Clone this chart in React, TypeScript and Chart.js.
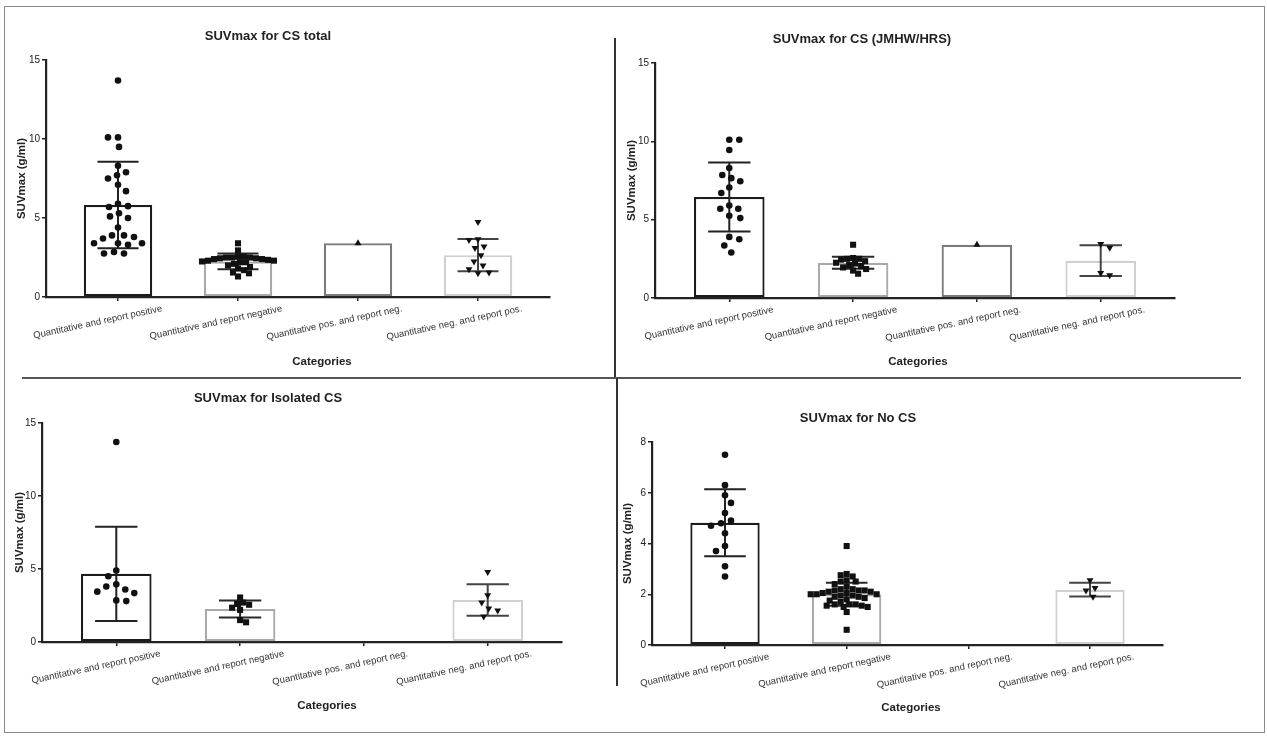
import React, { useEffect, useRef } from "react";
import { Chart, registerables } from "chart.js";

Chart.register(...registerables);

// ---------- DATA ----------
const categories = [
  "Quantitative and report positive",
  "Quantitative and report negative",
  "Quantitative pos. and report neg.",
  "Quantitative neg. and report pos.",
];

// Panel 1: SUVmax for CS total
const totalPos = [13.7, 10.1, 10.1, 9.5, 8.3, 7.9, 7.7, 7.5, 7.1, 6.7, 5.9, 5.75, 5.7, 5.3, 5.1, 5.0, 4.4, 3.9, 3.9, 3.8, 3.7, 3.4, 3.4, 3.4, 3.3, 2.85, 2.75, 2.75];
const totalNeg = [3.4, 2.95, 2.55, 2.5, 2.5, 2.45, 2.4, 2.35, 2.3, 2.25, 2.2, 2.2, 2.3, 2.4, 2.45, 2.5, 2.55, 2.1, 2.0, 1.9, 1.8, 1.7, 1.55, 1.5, 1.3];
const totalPosNeg = [3.4];
const totalNegPos = [4.75, 3.65, 3.6, 3.2, 3.1, 2.65, 2.25, 2.0, 1.75, 1.55, 1.5];
const totalMeans = [5.82, 2.25, 3.4, 2.65];
const totalSDs = [2.74, 0.5, 0, 1.02];

// Panel 2: SUVmax for CS (JMHW/HRS)
const jmhwPos = [10.1, 10.1, 9.45, 8.3, 7.85, 7.65, 7.45, 7.05, 6.7, 5.9, 5.7, 5.7, 5.25, 5.1, 3.9, 3.75, 3.35, 2.9];
const jmhwNeg = [3.4, 2.55, 2.5, 2.5, 2.45, 2.35, 2.25, 2.2, 2.1, 2.05, 1.95, 1.85, 1.75, 1.55];
const jmhwPosNeg = [3.4];
const jmhwNegPos = [3.45, 3.2, 1.6, 1.45];
const jmhwMeans = [6.45, 2.25, 3.4, 2.38];
const jmhwSDs = [2.2, 0.38, 0, 0.98];

// Panel 3: SUVmax for Isolated CS
const isoPos = [13.7, 4.9, 4.5, 3.95, 3.8, 3.6, 3.45, 3.35, 2.85, 2.8];
const isoNeg = [3.05, 2.7, 2.6, 2.55, 2.35, 2.2, 1.5, 1.35];
const isoPosNeg: number[] = [];
const isoNegPos = [4.8, 3.2, 2.7, 2.3, 2.15, 1.75];
const isoMeans = [4.67, 2.26, null, 2.87];
const isoSDs = [3.23, 0.58, 0, 1.08];

// Panel 4: SUVmax for No CS
const noPos = [7.5, 6.3, 5.9, 5.6, 5.2, 4.9, 4.8, 4.7, 4.4, 3.9, 3.7, 3.1, 2.7];
const noNeg = [3.9, 2.8, 2.75, 2.7, 2.55, 2.5, 2.5, 2.4, 2.3, 2.2, 2.2, 2.15, 2.15, 2.15, 2.1, 2.1, 2.05, 2.05, 2.0, 2.0, 2.0, 1.95, 1.95, 1.9, 1.9, 1.85, 1.8, 1.75, 1.7, 1.6, 1.6, 1.6, 1.55, 1.55, 1.5, 1.5, 1.3, 0.6];
const noPosNeg: number[] = [];
const noNegPos = [2.55, 2.25, 2.15, 1.9];
const noMeans = [4.82, 2.0, null, 2.18];
const noSDs = [1.32, 0.45, 0, 0.27];

const yTicks15 = [0, 5, 10, 15];
const yTicks8 = [0, 2, 4, 6, 8];

// ---------- STYLE / LAYOUT ----------
const FONT = "'Liberation Sans', Arial, Helvetica, sans-serif";
const barBorders = ["#1c1c1c", "#a9a9a9", "#7b7b7b", "#d0d0d0"];
const errColors = ["#222", "#2a2a2a", "#444", "#444"];
const pointStyles = ["circle", "rect", "triangle", "triangle"];
const pointRot = [0, 0, 0, 180];
const pointRadius = [3.3, 4.3, 4.0, 4.0];
const swarmDiam = [9.5, 5.8, 9, 9];
const X_EDGE = 0.6;
const TITLE_SIZE = 13;
const AXIS_TITLE_SIZE = 11.5;

type Box = {
  left: number; right: number; top: number; bottom: number;
  titleX: number; titleY: number; xTitleX: number; xTitleY: number; yTitleX: number;
};
type Panel = {
  title: string;
  groups: number[][];
  means: (number | null)[];
  sds: number[];
  yTicks: number[];
  box: Box;
};

const panels: Panel[] = [
  {
    title: "SUVmax for CS total",
    groups: [totalPos, totalNeg, totalPosNeg, totalNegPos],
    means: totalMeans,
    sds: totalSDs,
    yTicks: yTicks15,
    box: { left: 46, right: 550, top: 60, bottom: 297, titleX: 268, titleY: 37, xTitleX: 322, xTitleY: 362, yTitleX: 22 },
  },
  {
    title: "SUVmax for CS (JMHW/HRS)",
    groups: [jmhwPos, jmhwNeg, jmhwPosNeg, jmhwNegPos],
    means: jmhwMeans,
    sds: jmhwSDs,
    yTicks: yTicks15,
    box: { left: 655, right: 1175, top: 63, bottom: 298, titleX: 862, titleY: 40, xTitleX: 918, xTitleY: 362, yTitleX: 632 },
  },
  {
    title: "SUVmax for Isolated CS",
    groups: [isoPos, isoNeg, isoPosNeg, isoNegPos],
    means: isoMeans,
    sds: isoSDs,
    yTicks: yTicks15,
    box: { left: 42, right: 562, top: 423, bottom: 642, titleX: 268, titleY: 399, xTitleX: 327, xTitleY: 706, yTitleX: 20 },
  },
  {
    title: "SUVmax for No CS",
    groups: [noPos, noNeg, noPosNeg, noNegPos],
    means: noMeans,
    sds: noSDs,
    yTicks: yTicks8,
    box: { left: 652, right: 1163, top: 442, bottom: 645, titleX: 858, titleY: 419, xTitleX: 911, xTitleY: 708, yTitleX: 628 },
  },
];

// scatter layout (beeswarm) computed in pixel space, returned in category units
function swarmOffsets(values: number[], pxY: number, pxX: number, diam: number): number[] {
  const order = values.map((_, i) => i).sort((a, b) => values[b] - values[a]);
  const placed: { x: number; y: number }[] = [];
  const out = new Array(values.length).fill(0);
  order.forEach((idx, k) => {
    const yp = values[idx] * pxY;
    let chosen = 0;
    outer: for (let s = 0; s < 300; s++) {
      const cands = s === 0 ? [0] : k % 2 ? [s, -s] : [-s, s];
      for (const c of cands) {
        if (placed.every((p) => Math.hypot(p.x - c, p.y - yp) >= diam)) {
          chosen = c;
          break outer;
        }
      }
    }
    placed.push({ x: chosen, y: yp });
    out[idx] = chosen / pxX;
  });
  return out;
}

const panelPlugin = {
  id: "panelDecor",
  afterLayout(chart: any, _args: any, opts: any) {
    // place the panel title at the requested centre
    if (chart.titleBlock) {
      chart.titleBlock.left = opts.titleCx - 250;
      chart.titleBlock.right = opts.titleCx + 250;
    }
  },
  afterDatasetDraw(chart: any, args: any, opts: any) {
    if (args.index !== 0) return;
    const { ctx } = chart;
    const y = chart.scales.y;
    const meta = chart.getDatasetMeta(0);
    const means: (number | null)[] = opts.means;
    const sds: number[] = opts.sds;
    ctx.save();
    means.forEach((m, i) => {
      if (m === null || !sds[i]) return;
      const el = meta.data[i];
      if (!el) return;
      const x = el.x;
      const half = el.width * 0.3;
      const yt = y.getPixelForValue(m + sds[i]);
      const yb = y.getPixelForValue(m - sds[i]);
      ctx.strokeStyle = errColors[i];
      ctx.lineWidth = 2;
      ctx.beginPath();
      ctx.moveTo(x, yt);
      ctx.lineTo(x, yb);
      ctx.moveTo(x - half, yt);
      ctx.lineTo(x + half, yt);
      ctx.moveTo(x - half, yb);
      ctx.lineTo(x + half, yb);
      ctx.stroke();
    });
    ctx.restore();
  },
  afterDraw(chart: any, _args: any, opts: any) {
    const { ctx } = chart;
    ctx.save();
    ctx.fillStyle = "#222";
    ctx.font = `bold ${AXIS_TITLE_SIZE}px ${FONT}`;
    ctx.textAlign = "center";
    ctx.textBaseline = "middle";
    ctx.fillText(opts.xTitle, opts.xTitleCx, opts.xTitleCy);
    ctx.restore();
  },
};

function PanelChart({ panel }: { panel: Panel }) {
  const ref = useRef<HTMLCanvasElement | null>(null);
  const b = panel.box;
  const axLH = AXIS_TITLE_SIZE * 1.2;
  const tLH = TITLE_SIZE * 1.2;
  const canvasLeft = Math.round(b.yTitleX - axLH / 2 - 2);
  const canvasTop = Math.round(b.titleY - tLH / 2);
  const canvasBottom = Math.round(b.xTitleY + axLH / 2 + 4);
  const width = b.right - canvasLeft + 2;
  const height = canvasBottom - canvasTop;
  const yAxisW = b.left - canvasLeft;
  const xAxisH = canvasBottom - b.bottom;
  const titlePadBottom = b.top - canvasTop - tLH;
  const yMax = panel.yTicks[panel.yTicks.length - 1];

  useEffect(() => {
    if (!ref.current) return;
    const pxY = (b.bottom - b.top) / yMax;
    const pxX = (b.right - b.left) / (3 + 2 * X_EDGE);
    const scatterSets = panel.groups.map((vals, gi) => {
      const offs = swarmOffsets(vals, pxY, pxX, swarmDiam[gi]);
      return {
        type: "scatter" as const,
        data: vals.map((v, i) => ({ x: gi + offs[i], y: v })),
        pointStyle: pointStyles[gi],
        rotation: pointRot[gi],
        pointRadius: pointRadius[gi],
        pointBackgroundColor: "#111",
        pointBorderColor: "#111",
        pointBorderWidth: 0,
        showLine: false,
        order: 1,
      };
    });
    const chart = new Chart(ref.current, {
      type: "bar",
      data: {
        datasets: [
          {
            type: "bar",
            data: panel.means.map((m, i) => ({ x: i, y: m })),
            backgroundColor: "rgba(255,255,255,1)",
            borderColor: barBorders,
            borderWidth: 2.2,
            borderSkipped: false,
            barPercentage: 0.57,
            categoryPercentage: 1,
            order: 2,
          } as any,
          ...(scatterSets as any[]),
        ],
      },
      options: {
        responsive: false,
        animation: false,
        events: [],
        layout: { padding: { left: 0, right: 2, top: 0, bottom: 0 }, autoPadding: false },
        plugins: {
          legend: { display: false },
          tooltip: { enabled: false },
          title: {
            display: true,
            text: panel.title,
            color: "#222",
            font: { family: FONT, size: TITLE_SIZE, weight: "bold", lineHeight: 1.2 },
            padding: { top: 0, bottom: titlePadBottom },
          },
          panelDecor: {
            means: panel.means,
            sds: panel.sds,
            titleCx: b.titleX - canvasLeft,
            xTitle: "Categories",
            xTitleCx: b.xTitleX - canvasLeft,
            xTitleCy: b.xTitleY - canvasTop,
          },
        } as any,
        scales: {
          x: {
            type: "linear",
            offset: false,
            min: -X_EDGE,
            max: 3 + X_EDGE,
            afterBuildTicks: (s: any) => {
              s.ticks = categories.map((_, i) => ({ value: i }));
            },
            afterFit: (s: any) => {
              s.height = xAxisH;
              s.paddingLeft = 0;
              s.paddingRight = 0;
              s.paddingTop = 0;
              s.paddingBottom = 0;
            },
            ticks: {
              autoSkip: false,
              minRotation: 12,
              maxRotation: 12,
              labelOffset: 44,
              padding: 2,
              color: "#333",
              font: { family: FONT, size: 9.5 },
              callback: (v: any) => categories[v as number] ?? "",
            },
            grid: { display: true, offset: false, drawOnChartArea: false, drawTicks: true, tickLength: 4, color: "#222", lineWidth: 1.5 },
            border: { display: true, color: "#222", width: 2.2 },
            title: { display: false },
          },
          y: {
            min: 0,
            max: yMax,
            afterBuildTicks: (s: any) => {
              s.ticks = panel.yTicks.map((v) => ({ value: v }));
            },
            afterFit: (s: any) => {
              s.width = yAxisW;
              s.paddingLeft = 0;
              s.paddingRight = 0;
              s.paddingTop = 0;
              s.paddingBottom = 0;
            },
            ticks: {
              color: "#222",
              padding: 2,
              font: { family: FONT, size: 10 },
            },
            grid: { display: true, drawOnChartArea: false, drawTicks: true, tickLength: 4, color: "#222", lineWidth: 1.5 },
            border: { display: true, color: "#222", width: 2.2 },
            title: {
              display: true,
              text: "SUVmax (g/ml)",
              color: "#222",
              font: { family: FONT, size: AXIS_TITLE_SIZE, weight: "bold", lineHeight: 1.2 },
              padding: { top: 2, bottom: 0 },
            },
          },
        },
      } as any,
      plugins: [panelPlugin as any],
    });
    return () => chart.destroy();
  }, []);

  return (
    <canvas
      ref={ref}
      width={width}
      height={height}
      style={{ position: "absolute", left: canvasLeft, top: canvasTop, width, height }}
    />
  );
}

export default function App() {
  return (
    <div
      style={{
        position: "fixed",
        left: 0,
        top: 0,
        width: 1267,
        height: 737,
        background: "#ffffff",
        overflow: "hidden",
        fontFamily: FONT,
      }}
    >
      {/* outer frame */}
      <div style={{ position: "absolute", left: 4, top: 6, width: 1259, height: 725, border: "1px solid #8a8a8a" }} />
      {/* dividers */}
      <div style={{ position: "absolute", left: 614, top: 38, width: 2, height: 341, background: "#333" }} />
      <div style={{ position: "absolute", left: 22, top: 377, width: 1219, height: 2, background: "#555" }} />
      <div style={{ position: "absolute", left: 616, top: 378, width: 2, height: 308, background: "#333" }} />
      {panels.map((p, i) => (
        <PanelChart key={i} panel={p} />
      ))}
    </div>
  );
}
